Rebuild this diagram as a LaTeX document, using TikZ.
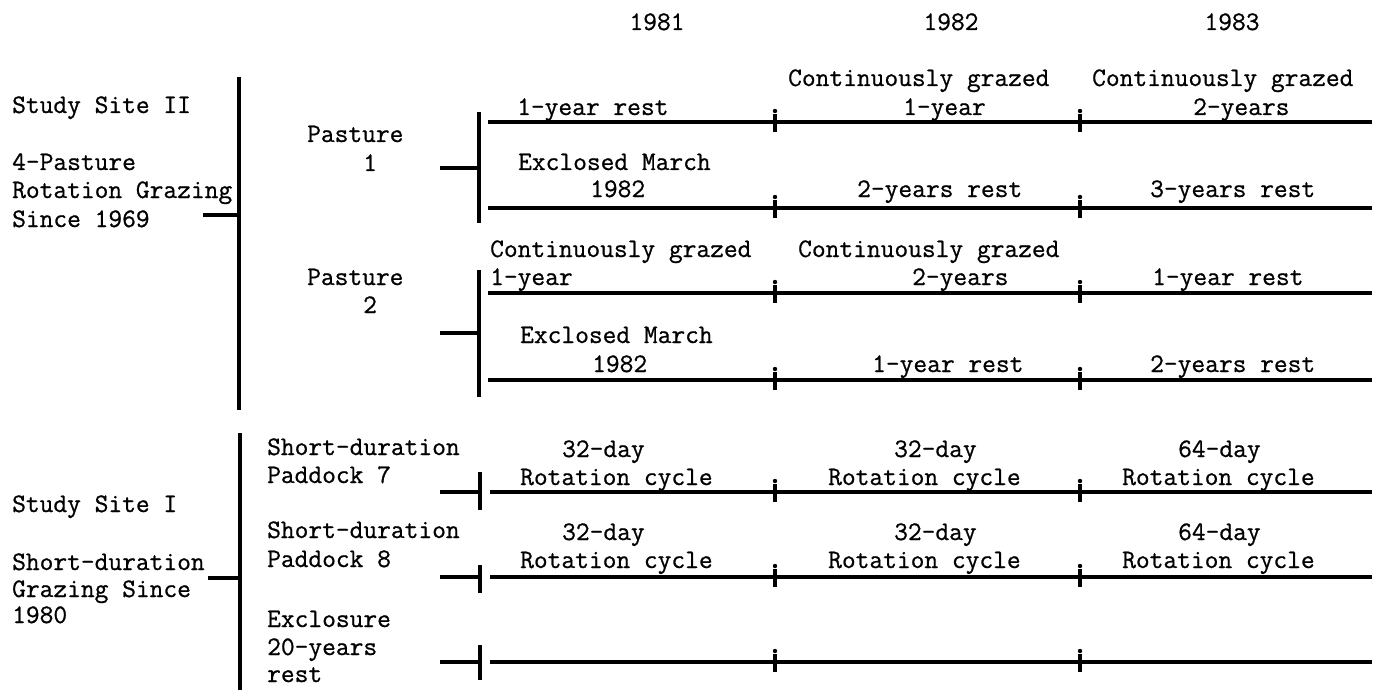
\documentclass[tikz,border=0pt]{standalone}
\usepackage{fontspec}
\newfontfamily\twfont[FakeBold=0.8]{Latin Modern Mono}
\usepackage{tikz}

\tikzset{
  lbl/.style={inner sep=0pt, anchor=base west, font=\twfont\fontsize{26.7}{30}\selectfont},
  yearline/.style={line width=3.2pt},
  bracket/.style={line width=4pt},
  tickbar/.style={line width=3.2pt},
}

\begin{document}
\begin{tikzpicture}[x=1pt,y=-1pt]
\useasboundingbox (0,0) rectangle (1374,690);

% Year headings
\node[lbl, anchor=base] (y81) at (657,30) {1981};
\node[lbl, anchor=base] (y82) at (951,30) {1982};
\node[lbl, anchor=base] (y83) at (1232,30) {1983};

% Study site II
\node[lbl] (s2a) at (12,113) {Study Site II};
\node[lbl] (s2b) at (12,170) {4-Pasture};
\node[lbl] (s2c) at (12,198) {Rotation Grazing};
\node[lbl] (s2d) at (12,227) {Since 1969};
\coordinate (s2top) at (239,77);
\coordinate (s2bot) at (239,410);
\coordinate (s2stub) at (203,215);
\draw[bracket] (s2top) -- (s2bot);
\draw[bracket] (s2stub) -- (s2stub -| s2top);

% Study site I
\node[lbl] (s1a) at (12,512) {Study Site I};
\node[lbl] (s1b) at (12,570) {Short-duration};
\node[lbl] (s1c) at (12,597) {Grazing Since};
\node[lbl] (s1d) at (12,623) {1980};
\coordinate (s1top) at (240,433);
\coordinate (s1bot) at (240,690);
\coordinate (s1stub) at (208,578);
\draw[bracket] (s1top) -- (s1bot);
\draw[bracket] (s1stub) -- (s1stub -| s1top);

% Pastures
\node[lbl] (past1) at (307,142) {Pasture};
\node[lbl] (past1n) at (363,171) {1};
\node[lbl] (past2) at (307,285) {Pasture};
\node[lbl] (past2n) at (363,313) {2};
\draw[bracket] (479,112) coordinate (p1top) -- (479,223) coordinate (p1bot);
\draw[bracket] (440,168) coordinate (p1stub) -- (p1stub -| p1top);
\draw[bracket] (479,270) coordinate (p2top) -- (479,397) coordinate (p2bot);
\draw[bracket] (440,333) coordinate (p2stub) -- (p2stub -| p2top);

% Paddocks and exclosure
\node[lbl] (pd7a) at (267,455) {Short-duration};
\node[lbl] (pd7b) at (267,483) {Paddock 7};
\node[lbl] (pd8a) at (267,538) {Short-duration};
\node[lbl] (pd8b) at (267,567) {Paddock 8};
\node[lbl] (exa) at (267,627) {Exclosure};
\node[lbl] (exb) at (267,655) {20-years};
\node[lbl] (exc) at (267,682) {rest};
\foreach \nm/\y/\a/\b in {pd7/492/472/510, pd8/577/565/593, ex/662/645/680} {
  \draw[bracket] (480,\a) coordinate (\nm top) -- (480,\b) coordinate (\nm bot);
  \draw[bracket] (440,\y) coordinate (\nm stub) -- (\nm stub -| \nm top);
}

% Time lines with year ticks
\foreach \nm/\y/\xs in {la/122/488, lb/208/488, lc/293/488, ld/380/488, le/492/490, lf/577/490, lg/662/490} {
  \coordinate (\nm s) at (\xs,\y);
  \coordinate (\nm e) at (1372,\y);
  \draw[yearline] (\nm s) -- (\nm e);
  \foreach \tx in {775,1080} {
    \draw[tickbar] (\tx,\y-8) -- (\tx,\y+10);
    \fill (\tx,\y-11) circle (2.2);
  }
}

% Pasture 1 labels
\node[lbl] (la1) at (517,115) {1-year rest};
\node[lbl] (la2) at (788,86) {Continuously grazed};
\node[lbl] (la3) at (903,115) {1-year};
\node[lbl] (la4) at (1092,86) {Continuously grazed};
\node[lbl] (la5) at (1193,115) {2-years};
\node[lbl] (lb1) at (518,170) {Exclosed March};
\node[lbl] (lb2) at (590,197) {1982};
\node[lbl] (lb3) at (857,197) {2-years rest};
\node[lbl] (lb4) at (1150,197) {3-years rest};

% Pasture 2 labels
\node[lbl] (lc1) at (490,257) {Continuously grazed};
\node[lbl] (lc2) at (490,285) {1-year};
\node[lbl] (lc3) at (798,257) {Continuously grazed};
\node[lbl] (lc4) at (912,285) {2-years};
\node[lbl] (lc5) at (1152,285) {1-year rest};
\node[lbl] (ld1) at (520,343) {Exclosed March};
\node[lbl] (ld2) at (592,372) {1982};
\node[lbl] (ld3) at (872,372) {1-year rest};
\node[lbl] (ld4) at (1150,372) {2-years rest};

% Paddock labels
\foreach \nm/\ya/\yb in {le/457/485, lf/540/568} {
  \node[lbl] (\nm 1) at (562,\ya) {32-day};
  \node[lbl] (\nm 2) at (520,\yb) {Rotation cycle};
  \node[lbl] (\nm 3) at (894,\ya) {32-day};
  \node[lbl] (\nm 4) at (828,\yb) {Rotation cycle};
  \node[lbl] (\nm 5) at (1178,\ya) {64-day};
  \node[lbl] (\nm 6) at (1122,\yb) {Rotation cycle};
}
\end{tikzpicture}
\end{document}
